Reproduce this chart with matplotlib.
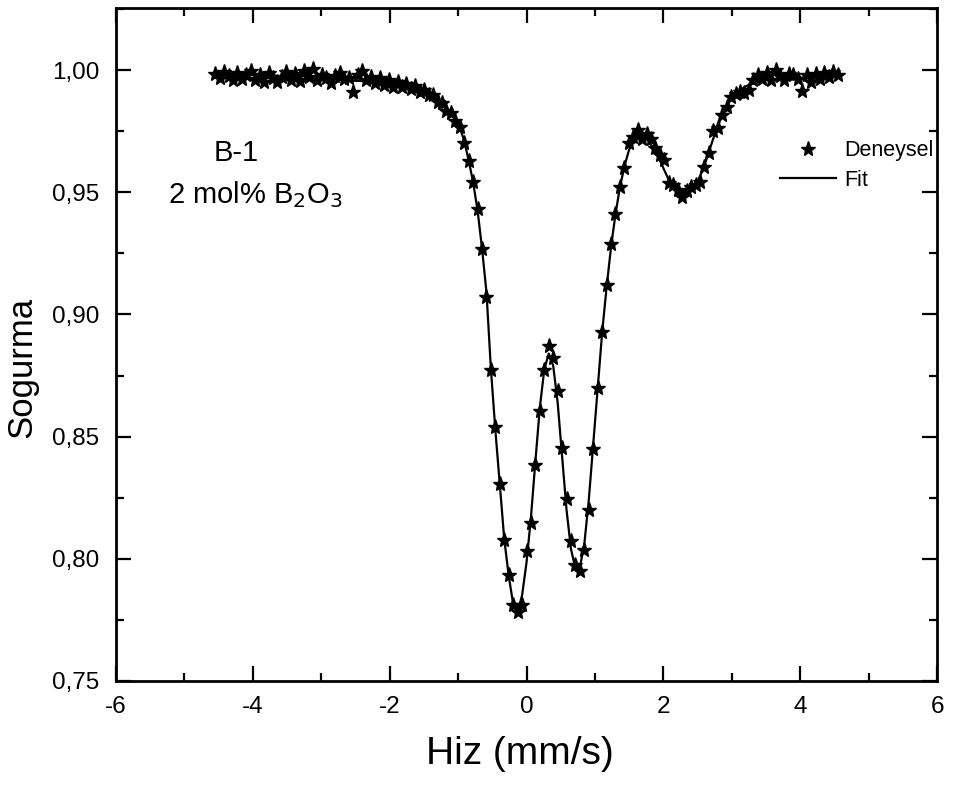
import matplotlib
matplotlib.use("Agg")
import matplotlib.pyplot as plt
from matplotlib.ticker import MultipleLocator, FuncFormatter

plt.rcParams['font.family'] = ['Liberation Sans', 'DejaVu Sans']

# velocity channels (mm/s)
velocity = [
    -4.550, -4.485, -4.420, -4.355, -4.290, -4.225, -4.160, -4.095, -4.030, -3.965,
    -3.900, -3.835, -3.770, -3.705, -3.640, -3.575, -3.510, -3.445, -3.380, -3.315,
    -3.250, -3.185, -3.120, -3.055, -2.990, -2.925, -2.860, -2.795, -2.730, -2.665,
    -2.600, -2.535, -2.470, -2.405, -2.340, -2.275, -2.210, -2.145, -2.080, -2.015,
    -1.950, -1.885, -1.820, -1.755, -1.690, -1.625, -1.560, -1.495, -1.430, -1.365,
    -1.300, -1.235, -1.170, -1.105, -1.040, -0.975, -0.910, -0.845, -0.780, -0.715,
    -0.650, -0.585, -0.520, -0.455, -0.390, -0.325, -0.260, -0.195, -0.130, -0.065,
    0.000, 0.065, 0.130, 0.195, 0.260, 0.325, 0.390, 0.455, 0.520, 0.585,
    0.650, 0.715, 0.780, 0.845, 0.910, 0.975, 1.040, 1.105, 1.170, 1.235,
    1.300, 1.365, 1.430, 1.495, 1.560, 1.625, 1.690, 1.755, 1.820, 1.885,
    1.950, 2.015, 2.080, 2.145, 2.210, 2.275, 2.340, 2.405, 2.470, 2.535,
    2.600, 2.665, 2.730, 2.795, 2.860, 2.925, 2.990, 3.055, 3.120, 3.185,
    3.250, 3.315, 3.380, 3.445, 3.510, 3.575, 3.640, 3.705, 3.770, 3.835,
    3.900, 3.965, 4.030, 4.095, 4.160, 4.225, 4.290, 4.355, 4.420, 4.485,
    4.550,
]

# measured absorption (Deneysel)
deneysel = [
    0.9985, 0.9968, 0.9992, 0.9975, 0.9958, 0.9990, 0.9962, 0.9981, 0.9995, 0.9960,
    0.9978, 0.9953, 0.9987, 0.9966, 0.9950, 0.9972, 0.9994, 0.9961, 0.9983, 0.9956,
    0.9997, 0.9970, 1.0003, 0.9959, 0.9980, 0.9966, 0.9949, 0.9975, 0.9988, 0.9962,
    0.9968, 0.9910, 0.9979, 0.9995, 0.9958, 0.9972, 0.9948, 0.9966, 0.9939, 0.9958,
    0.9932, 0.9950, 0.9929, 0.9944, 0.9921, 0.9933, 0.9910, 0.9920, 0.9896, 0.9900,
    0.9871, 0.9865, 0.9832, 0.9826, 0.9790, 0.9767, 0.9700, 0.9628, 0.9540, 0.9430,
    0.9268, 0.9070, 0.8773, 0.8538, 0.8306, 0.8077, 0.7934, 0.7811, 0.7782, 0.7810,
    0.8033, 0.8148, 0.8384, 0.8606, 0.8773, 0.8872, 0.8820, 0.8687, 0.8452, 0.8243,
    0.8074, 0.7975, 0.7951, 0.8036, 0.8200, 0.8450, 0.8700, 0.8930, 0.9120, 0.9290,
    0.9410, 0.9520, 0.9600, 0.9700, 0.9728, 0.9754, 0.9720, 0.9738, 0.9718, 0.9680,
    0.9652, 0.9630, 0.9536, 0.9530, 0.9510, 0.9482, 0.9505, 0.9520, 0.9530, 0.9540,
    0.9604, 0.9660, 0.9750, 0.9763, 0.9816, 0.9850, 0.9891, 0.9903, 0.9911, 0.9905,
    0.9920, 0.9960, 0.9980, 0.9965, 0.9990, 0.9959, 1.0000, 0.9975, 0.9958, 0.9982,
    0.9980, 0.9962, 0.9913, 0.9978, 0.9950, 0.9985, 0.9965, 0.9990, 0.9972, 0.9993,
    0.9980,
]

# fitted curve (Fit)
fit = [
    0.9970, 0.9970, 0.9970, 0.9969, 0.9969, 0.9969, 0.9969, 0.9968, 0.9968, 0.9968,
    0.9968, 0.9967, 0.9967, 0.9967, 0.9966, 0.9966, 0.9966, 0.9965, 0.9965, 0.9965,
    0.9964, 0.9964, 0.9963, 0.9963, 0.9962, 0.9962, 0.9961, 0.9961, 0.9960, 0.9959,
    0.9958, 0.9957, 0.9956, 0.9955, 0.9954, 0.9953, 0.9951, 0.9949, 0.9947, 0.9945,
    0.9943, 0.9940, 0.9937, 0.9933, 0.9929, 0.9924, 0.9918, 0.9911, 0.9902, 0.9891,
    0.9877, 0.9860, 0.9845, 0.9825, 0.9800, 0.9765, 0.9710, 0.9630, 0.9540, 0.9425,
    0.9270, 0.9090, 0.8775, 0.8525, 0.8305, 0.8080, 0.7930, 0.7815, 0.7785, 0.7850,
    0.7985, 0.8170, 0.8400, 0.8620, 0.8775, 0.8840, 0.8790, 0.8640, 0.8420, 0.8200,
    0.8040, 0.7960, 0.7965, 0.8060, 0.8240, 0.8470, 0.8700, 0.8925, 0.9110, 0.9275,
    0.9410, 0.9520, 0.9605, 0.9670, 0.9715, 0.9735, 0.9735, 0.9720, 0.9695, 0.9665,
    0.9630, 0.9590, 0.9550, 0.9515, 0.9495, 0.9490, 0.9500, 0.9510, 0.9530, 0.9565,
    0.9610, 0.9665, 0.9720, 0.9770, 0.9815, 0.9852, 0.9880, 0.9902, 0.9918, 0.9930,
    0.9940, 0.9945, 0.9951, 0.9956, 0.9960, 0.9962, 0.9964, 0.9965, 0.9966, 0.9967,
    0.9968, 0.9968, 0.9969, 0.9969, 0.9970, 0.9970, 0.9971, 0.9971, 0.9971, 0.9972,
    0.9972,
]

fig = plt.figure(figsize=(9.54, 7.86), dpi=100)
ax = fig.add_axes([0.1216, 0.1336, 0.8606, 0.8562])

ax.plot(velocity, deneysel, linestyle='none', marker='*', markersize=11,
        color='black', label='Deneysel')
ax.plot(velocity, fit, color='black', linewidth=1.6, label='Fit')

ax.set_xlim(-6, 6)
ax.set_ylim(0.75, 1.0254)
ax.xaxis.set_major_locator(MultipleLocator(2))
ax.xaxis.set_minor_locator(MultipleLocator(1))
ax.yaxis.set_major_locator(MultipleLocator(0.05))
ax.yaxis.set_minor_locator(MultipleLocator(0.025))
ax.yaxis.set_major_formatter(FuncFormatter(lambda v, p: f"{v:.2f}".replace('.', ',')))
ax.xaxis.set_major_formatter(FuncFormatter(lambda v, p: f"{v:.0f}".replace('\u2212', '-')))

ax.tick_params(which='both', direction='in', top=True, right=True,
               labelsize=17.5, width=1.6)
ax.tick_params(which='major', length=11)
ax.tick_params(axis='x', which='major', pad=11)
ax.tick_params(axis='y', which='major', pad=12)
ax.tick_params(which='minor', length=6)
for s in ax.spines.values():
    s.set_linewidth(2)

ax.set_xlabel('Hiz (mm/s)', fontsize=28)
ax.set_ylabel('Sogurma', fontsize=25)
ax.xaxis.set_label_coords(0.492, -0.082)
ax.yaxis.set_label_coords(-0.094, 0.4666)

ax.text(0.146, 0.784, 'B-1', transform=ax.transAxes, fontsize=21,
        ha='center', va='center')
ax.text(0.063, 0.723, '2 mol% B$_2$O$_3$', transform=ax.transAxes, fontsize=21,
        va='center')

ax.legend(loc='upper right', bbox_to_anchor=(1.011, 0.823), frameon=False,
          fontsize=15.5, handlelength=2.6, handletextpad=0.35, labelspacing=0.4,
          borderaxespad=0.2)

fig.savefig('out.png', dpi=100)
